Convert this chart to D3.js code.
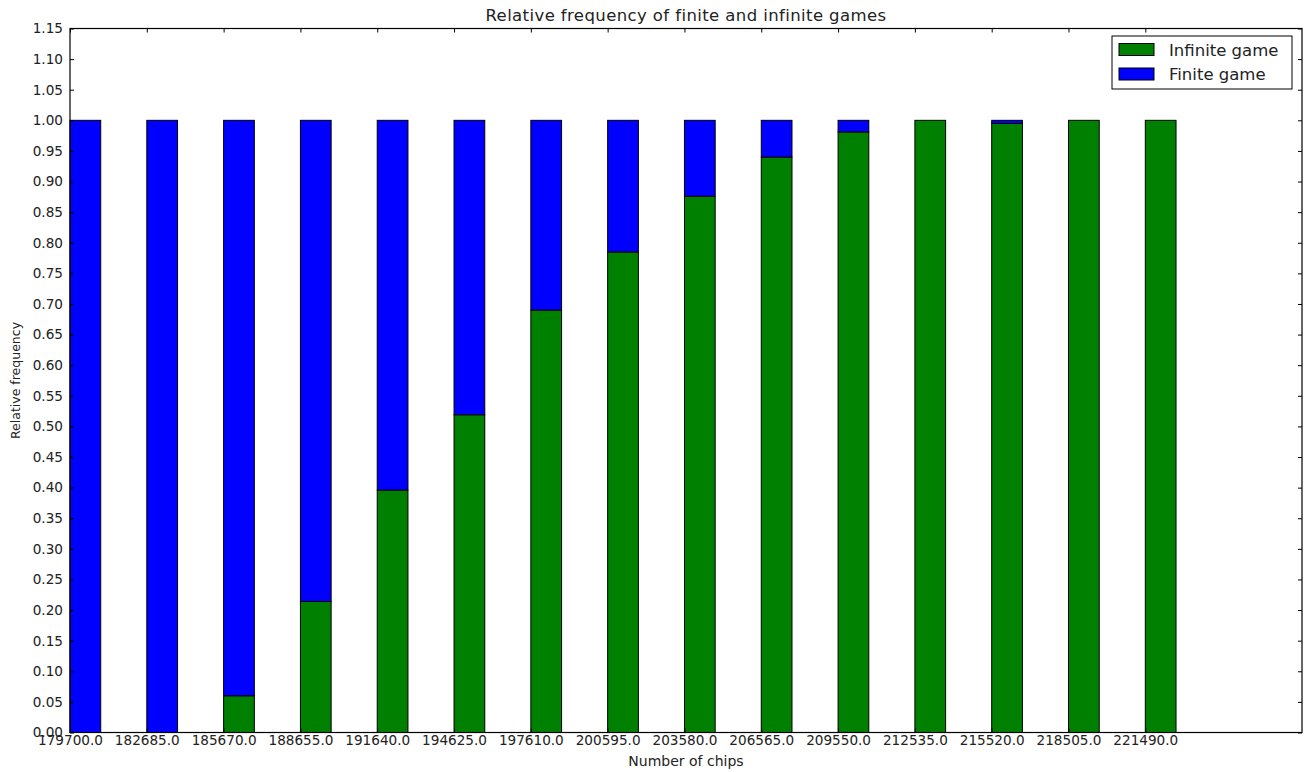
<!DOCTYPE html>
<html>
<head>
<meta charset="utf-8">
<script src="https://cdn.jsdelivr.net/npm/d3@7"></script>
<style>
  html, body { margin: 0; padding: 0; background: #fff; }
  svg { display: block; font-family: "DejaVu Sans", sans-serif; }
</style>
</head>
<body>
<svg id="chart" width="1309" height="772"></svg>
<script>
// Number of chips (bar left edges)
const chips = [179700, 182685, 185670, 188655, 191640, 194625, 197610, 200595,
               203580, 206565, 209550, 212535, 215520, 218505, 221490];
// Relative frequency of infinite games for each chip count
const infinite = [0.0, 0.0, 0.06, 0.214, 0.396, 0.519, 0.690, 0.785,
                  0.876, 0.940, 0.981, 1.0, 0.995, 1.0, 1.0];
// Finite games make up the remainder
const finite = infinite.map(v => 1 - v);
const seriesNames = ["Infinite game", "Finite game"];
const seriesColors = ["#008000", "#0000ff"];
const yTicks = d3.range(0, 24).map(i => +(i * 0.05).toFixed(2));

const step = 2985;
const barWidth = 0.4 * step;

const svg = d3.select("#chart");
const m = { left: 70, right: 1302, top: 28.5, bottom: 732.5 };

const x = d3.scaleLinear().domain([179700, 179700 + 16.04 * step]).range([m.left, m.right]);
const y = d3.scaleLinear().domain([0, 1.15]).range([m.bottom, m.top]);

// Bars: infinite at the bottom, finite stacked on top
const g = svg.append("g");
chips.forEach((c, i) => {
  const x0 = x(c), w = x(c + barWidth) - x(c);
  if (infinite[i] > 0) {
    g.append("rect")
      .attr("x", x0).attr("width", w)
      .attr("y", y(infinite[i])).attr("height", y(0) - y(infinite[i]))
      .attr("fill", seriesColors[0]).attr("stroke", "#000").attr("stroke-width", 1);
  }
  if (finite[i] > 0.0001) {
    g.append("rect")
      .attr("x", x0).attr("width", w)
      .attr("y", y(infinite[i] + finite[i])).attr("height", y(infinite[i]) - y(infinite[i] + finite[i]))
      .attr("fill", seriesColors[1]).attr("stroke", "#000").attr("stroke-width", 1);
  }
});

// Axes (ticks pointing inward, classic style)
const tickLen = 4;
const tickFont = 13.6;

const yAxisL = d3.axisLeft(y).tickValues(yTicks).tickFormat(d3.format(".2f"))
  .tickSizeInner(-tickLen).tickSizeOuter(0).tickPadding(7);
svg.append("g").attr("transform", `translate(${m.left},0)`).call(yAxisL)
  .call(s => s.select(".domain").remove())
  .call(s => s.selectAll("text").attr("font-size", tickFont).attr("fill", "#222").attr("font-family", "DejaVu Sans"));

const yAxisR = d3.axisRight(y).tickValues(yTicks).tickFormat("")
  .tickSizeInner(-tickLen).tickSizeOuter(0);
svg.append("g").attr("transform", `translate(${m.right},0)`).call(yAxisR)
  .call(s => s.select(".domain").remove());

const xAxisB = d3.axisBottom(x).tickValues(chips).tickFormat(d => d.toFixed(1))
  .tickSizeInner(-tickLen).tickSizeOuter(0).tickPadding(3);
svg.append("g").attr("transform", `translate(0,${m.bottom})`).call(xAxisB)
  .call(s => s.select(".domain").remove())
  .call(s => s.selectAll("text").attr("font-size", tickFont).attr("fill", "#222").attr("font-family", "DejaVu Sans"));

const xAxisT = d3.axisTop(x).tickValues(chips).tickFormat("")
  .tickSizeInner(-tickLen).tickSizeOuter(0);
svg.append("g").attr("transform", `translate(0,${m.top})`).call(xAxisT)
  .call(s => s.select(".domain").remove());

// Frame
svg.append("rect")
  .attr("x", m.left).attr("y", m.top)
  .attr("width", m.right - m.left).attr("height", m.bottom - m.top)
  .attr("fill", "none").attr("stroke", "#000").attr("stroke-width", 1.2);

// Title and axis labels
svg.append("text").attr("x", (m.left + m.right) / 2).attr("y", 21)
  .attr("text-anchor", "middle").attr("font-size", 16.5).attr("letter-spacing", 0.4).attr("fill", "#222")
  .text("Relative frequency of finite and infinite games");
svg.append("text").attr("x", (m.left + m.right) / 2).attr("y", 766)
  .attr("text-anchor", "middle").attr("font-size", 14).attr("fill", "#222")
  .text("Number of chips");
svg.append("text").attr("transform", `translate(20,${(m.top + m.bottom) / 2}) rotate(-90)`)
  .attr("text-anchor", "middle").attr("font-size", 12.5).attr("fill", "#222")
  .text("Relative frequency");

// Legend
const lg = svg.append("g").attr("transform", "translate(1112,36)");
lg.append("rect").attr("width", 180).attr("height", 53)
  .attr("fill", "#fff").attr("stroke", "#000").attr("stroke-width", 1);
seriesNames.forEach((name, i) => {
  const row = lg.append("g").attr("transform", `translate(7,${7.5 + i * 24.5})`);
  row.append("rect").attr("width", 35).attr("height", 12)
    .attr("fill", seriesColors[i]).attr("stroke", "#000").attr("stroke-width", 1);
  row.append("text").attr("x", 50).attr("y", 12).attr("font-size", 16.5).attr("fill", "#222")
    .text(name);
});
</script>
</body>
</html>
